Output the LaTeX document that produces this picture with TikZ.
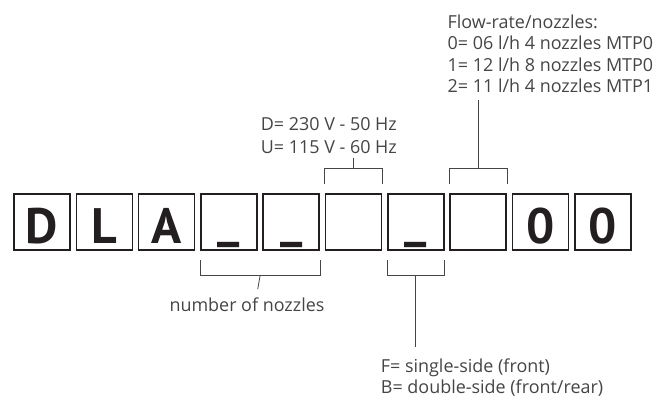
\documentclass[tikz,border=0pt]{standalone}
\usepackage{fontspec}
\setmainfont{PT Sans}
\newfontfamily\notefont{Open Sans}
\usetikzlibrary{calc}

\definecolor{ink}{HTML}{231F20}
\definecolor{tone}{HTML}{454545}

\newcommand\slotmark{\raisebox{6.5bp}{\_}}

\tikzset{
  cell/.style={draw=ink, line width=1.6bp, minimum size=56bp, inner sep=0pt,
    text height=43.3bp, text depth=0pt, text=ink,
    font=\fontsize{50}{50}\selectfont\bfseries},
  brace/.style={draw=tone, line width=0.8bp},
  note/.style={anchor=base west, inner sep=0pt, text=tone,
    font=\notefont\fontsize{18}{21}\selectfont}
}

\begin{document}
\begin{tikzpicture}[x=1bp,y=-1bp]
  \useasboundingbox (0,0) rectangle (656,401);

  % the ten code cells
  \foreach \i/\c in {1/D,2/L,3/A,4/\slotmark,5/\slotmark,6/,7/\slotmark,8/,9/0,10/0}
    \node[cell] (c\i) at ({42.05+62.3*(\i-1)},221.7) {\c};

  % texts
  \node[note] (flow0) at (447.5,28.3) {Flow-rate/nozzles:};
  \node[note] (flow1) at (447.5,49.8) {0= 06 l/h 4 nozzles MTP0};
  \node[note] (flow2) at (447.5,71.1) {1= 12 l/h 8 nozzles MTP0};
  \node[note] (flow3) at (447.5,92.3) {2= 11 l/h 4 nozzles MTP1};

  \node[note] (volt1) at (260.7,130.7) {D= 230 V - 50 Hz};
  \node[note] (volt2) at (260.7,153.0) {U= 115 V - 60 Hz};

  \node[note] (nozz) at (169.3,311.7) {number of nozzles};

  \node[note] (side1) at (380.7,372.7) {F= single-side (front)};
  \node[note] (side2) at (380.7,393.6) {B= double-side (front/rear)};

  % brackets above the cells
  \draw[brace] ([yshift=8.5bp]c6.north west) -- ([yshift=24.5bp]c6.north west)
    -- ([yshift=24.5bp]c6.north east) -- ([yshift=8.5bp]c6.north east);
  \draw[brace] ([yshift=24.5bp]c6.north) -- ($(volt2.base -| c6.north)+(0,5.3)$);

  \draw[brace] ([yshift=8.5bp]c8.north west) -- ([yshift=24.5bp]c8.north west)
    -- ([yshift=24.5bp]c8.north east) -- ([yshift=8.5bp]c8.north east);
  \draw[brace] ([yshift=24.5bp]c8.north) -- ($(flow3.base -| c8.north)+(0,7.7)$);

  % brackets below the cells
  \draw[brace] ([yshift=-9bp]c4.south west) -- ([yshift=-25bp]c4.south west)
    -- ([yshift=-25bp]c5.south east) -- ([yshift=-9bp]c5.south east);
  \draw[brace] ($([yshift=-25bp]c4.south)!0.5!([yshift=-25bp]c5.south)$)
    -- ($(nozz.base -| c4.south east)+(0,-22.7)$);

  \draw[brace] ([yshift=-9bp]c7.south west) -- ([yshift=-25bp]c7.south west)
    -- ([yshift=-25bp]c7.south east) -- ([yshift=-9bp]c7.south east);
  \draw[brace] ([yshift=-25bp]c7.south) -- ($(side1.base -| c7.south)+(0,-26)$);

\end{tikzpicture}
\end{document}
